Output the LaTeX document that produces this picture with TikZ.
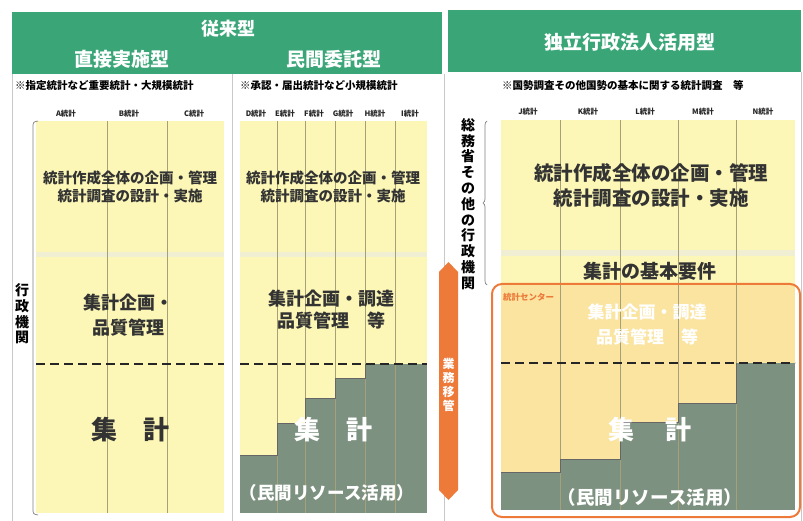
\documentclass[tikz,border=0pt]{standalone}
\usepackage{fontspec}
\setmainfont{Noto Sans CJK JP}
\usetikzlibrary{decorations.pathreplacing}
\definecolor{hgreen}{RGB}{58,166,120}
\definecolor{yel}{RGB}{252,247,182}
\definecolor{band}{RGB}{240,239,212}
\definecolor{gg}{RGB}{125,145,128}
\definecolor{oyel}{RGB}{250,228,160}
\definecolor{org}{RGB}{238,122,58}
\definecolor{coll}{RGB}{165,160,120}
\definecolor{frame}{RGB}{200,200,200}
\begin{document}
\begin{tikzpicture}[x=1pt,y=-1pt,
  hdr/.style={text=white,inner sep=0,font=\bfseries\fontsize{19}{22}\selectfont},
  note/.style={inner sep=0,font=\bfseries\fontsize{10.5}{12}\selectfont},
  clab/.style={inner sep=0,text=black!85,font=\bfseries\fontsize{7.5}{9}\selectfont},
  mtxt/.style={inner sep=0,align=center,text=black!80,font=\bfseries\fontsize{14.5}{18}\selectfont},
  btxt/.style={inner sep=0,align=center,text=black!80,font=\bfseries\fontsize{18}{25}\selectfont},
  bigt/.style={inner sep=0,font=\bfseries\fontsize{26}{30}\selectfont},
  vtxt/.style={inner sep=0,align=center,font=\bfseries\fontsize{14}{15.6}\selectfont},
  colline/.style={coll,line width=0.7},
  dline/.style={black!85,line width=1.6,dash pattern=on 9pt off 5pt},
  stair/.style={black!60,line width=0.8}]
\useasboundingbox (0,0) rectangle (803,521);
\fill[white] (0,0) rectangle (803,521);
% frames
\draw[frame,line width=0.8] (12,74) -- (12,521);
\draw[frame,line width=0.8] (232,74) -- (232,521);
\draw[frame,line width=0.8] (444,74) -- (444,521);
\draw[frame,line width=0.8] (801,72) -- (801,521);
% headers
\fill[hgreen] (12,12) rectangle (442,74);
\fill[hgreen] (448,10) rectangle (801,72);
\node[hdr,font=\bfseries\fontsize{18}{20}\selectfont] (h0) at (228,29) {従来型};
\node[hdr] (h1) at (122,59) {直接実施型};
\node[hdr] (h2) at (334,59) {民間委託型};
\node[hdr] (h3) at (630,42) {独立行政法人活用型};
% notes
\node[note,anchor=west] (n1) at (15,86) {※指定統計など重要統計・大規模統計};
\node[note,anchor=west] (n2) at (240,86) {※承認・届出統計など小規模統計};
\node[note,anchor=west] (n3) at (502,85) {※国勢調査その他国勢の基本に関する統計調査　等};
% column labels
\node[clab] (cA) at (66,114) {A統計};
\node[clab] (cB) at (129,114) {B統計};
\node[clab] (cC) at (194,114) {C統計};
\node[clab] (cD) at (256,114) {D統計};
\node[clab] (cE) at (285,114) {E統計};
\node[clab] (cF) at (314,114) {F統計};
\node[clab] (cG) at (343,114) {G統計};
\node[clab] (cH) at (375,114) {H統計};
\node[clab] (cI) at (410,114) {I統計};
\node[clab] (cJ) at (528,112) {J統計};
\node[clab] (cK) at (588,112) {K統計};
\node[clab] (cL) at (645,112) {L統計};
\node[clab] (cM) at (703,112) {M統計};
\node[clab] (cN) at (763,112) {N統計};
% ---------- left box
\fill[yel] (36,121) rectangle (224,513);
\fill[band] (36,252) rectangle (224,257);
\foreach \x in {107,167} \draw[colline] (\x,121) -- (\x,513);
\draw[dline] (36,364) -- (224,364);
\draw[gray,line width=0.7] (38,121) .. controls (33,122) .. (33,128) -- (33,508) .. controls (33,514) .. (38,515);
\node[vtxt] (gy) at (22,314) {行\\政\\機\\関};
\node[mtxt] (l1) at (130,187) {統計作成全体の企画・管理\\統計調査の設計・実施};
\node[btxt] (l2) at (128,315) {集計企画・\\品質管理};
\node[bigt,text=black!80] (l3) at (130,430) {集\hspace{1em}計};
% ---------- middle box
\fill[yel] (240,121) rectangle (427,513);
\fill[band] (240,252) rectangle (427,257);
\fill[gg] (240,455) rectangle (277,513);
\fill[gg] (277,423) rectangle (305,513);
\fill[gg] (305,398) rectangle (335,513);
\fill[gg] (335,378) rectangle (365,513);
\fill[gg] (365,364) rectangle (427,513);
\foreach \x in {277,305,335,365,395} \draw[colline] (\x,121) -- (\x,513);
\draw[stair] (240,455) -- (277,455) -- (277,423) -- (305,423) -- (305,398) -- (335,398) -- (335,378) -- (365,378) -- (365,364);
\draw[dline] (240,364) -- (427,364);
\node[mtxt] (m1) at (333,187) {統計作成全体の企画・管理\\統計調査の設計・実施};
\node[btxt,font=\bfseries\fontsize{18}{22}\selectfont] (m2) at (331,310) {集計企画・調達\\品質管理　等};
\node[bigt,text=white] (m3) at (333,430) {集\hspace{1em}計};
\node[inner sep=0,text=white,font=\bfseries\fontsize{17.5}{19}\selectfont] (m4) at (327,493) {（民間リソース活用）};
% ---------- orange arrow
\fill[org] (439,272) -- (448.5,262) -- (458,272) -- (458,490) -- (448.5,500) -- (439,490) -- cycle;
\node[vtxt,text=white,font=\bfseries\fontsize{12}{14}\selectfont] (ar) at (448.5,385) {業\\務\\移\\管};
% ---------- right
\node[vtxt,font=\bfseries\fontsize{14}{15.8}\selectfont] (sy) at (468,204) {総\\務\\省\\そ\\の\\他\\の\\行\\政\\機\\関};
\draw[gray,line width=0.7,decorate,decoration={brace,amplitude=4pt}] (487,285) -- (487,121);
\fill[yel] (501,120) rectangle (795,284);
\fill[band] (501,250) rectangle (795,256);
\fill[oyel] (501,284) rectangle (795,510);
\fill[gg] (501,472) rectangle (560,510);
\fill[gg] (560,459) rectangle (620,510);
\fill[gg] (620,422) rectangle (678,510);
\fill[gg] (678,403) rectangle (736,510);
\fill[gg] (736,363) rectangle (795,510);
\foreach \x in {560,620,678,736} \draw[colline] (\x,120) -- (\x,510);
\draw[stair] (501,472) -- (560,472) -- (560,459) -- (620,459) -- (620,422) -- (678,422) -- (678,403) -- (736,403) -- (736,363);
\draw[dline] (501,363) -- (795,363);
\draw[org,line width=2,rounded corners=10] (492,284) rectangle (800,517);
\node[mtxt,font=\bfseries\fontsize{19.5}{25}\selectfont] (r1) at (651,185) {統計作成全体の企画・管理\\統計調査の設計・実施};
\node[mtxt,font=\bfseries\fontsize{19}{22}\selectfont] (r2) at (650,271) {集計の基本要件};
\node[inner sep=0,anchor=west,text=org,font=\bfseries\fontsize{8.5}{10}\selectfont] (sc) at (503,297) {統計センター};
\node[btxt,text=white,font=\bfseries\fontsize{17}{25}\selectfont] (r3) at (647,325) {集計企画・調達\\品質管理　等};
\node[bigt,text=white] (r4) at (650,430) {集\hspace{1.2em}計};
\node[inner sep=0,text=white,font=\bfseries\fontsize{18.5}{20}\selectfont] (r5) at (650,497) {（民間リソース活用）};
\end{tikzpicture}
\end{document}
